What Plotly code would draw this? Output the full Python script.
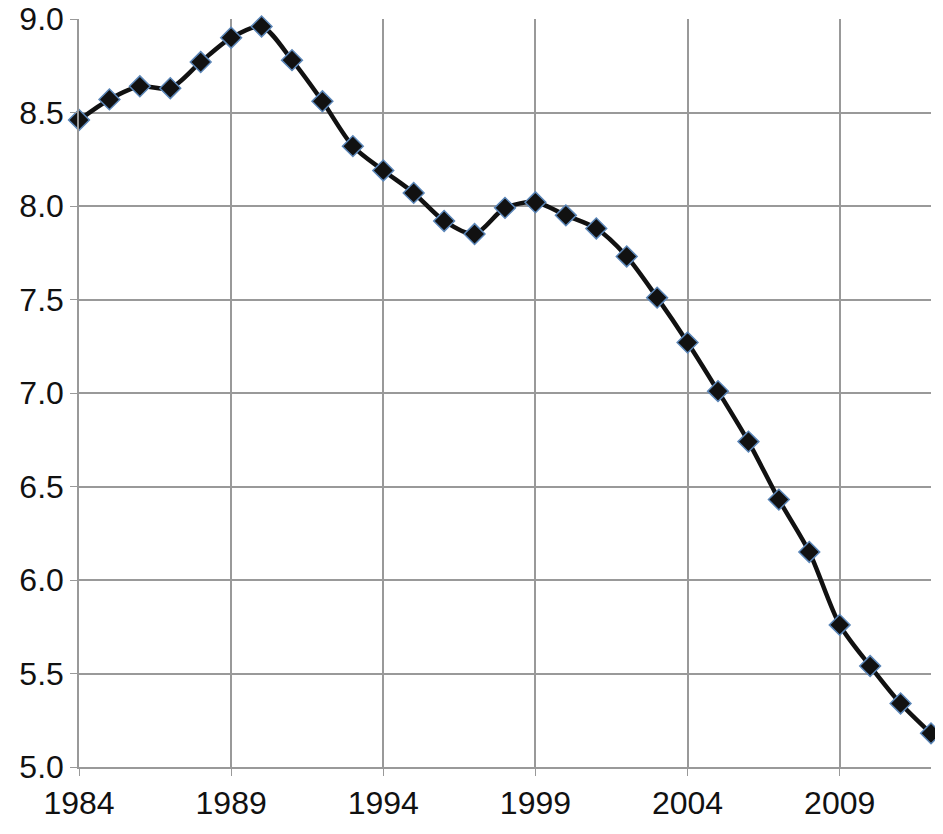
import plotly.graph_objects as go

years = list(range(1984, 2013))
values = [8.46, 8.57, 8.64, 8.63, 8.77, 8.90, 8.96, 8.78, 8.56, 8.32,
          8.19, 8.07, 7.92, 7.85, 7.99, 8.02, 7.95, 7.88, 7.73, 7.51,
          7.27, 7.01, 6.74, 6.43, 6.15, 5.76, 5.54, 5.34, 5.18]
x_ticks = [1984, 1989, 1994, 1999, 2004, 2009]
y_ticks = [5.0, 5.5, 6.0, 6.5, 7.0, 7.5, 8.0, 8.5, 9.0]

fig = go.Figure()
fig.add_trace(go.Scatter(
    x=years,
    y=values,
    mode="lines+markers",
    line=dict(color="#111111", width=4.5, shape="spline", smoothing=0.8),
    marker=dict(symbol="diamond", size=16, color="#111111",
                line=dict(color="#5b86b8", width=1.5)),
    cliponaxis=False,
    showlegend=False,
))

axis_font = dict(family="Arial, Liberation Sans, sans-serif", size=32, color="#111111")

# page body adds an 8px margin, so the figure is sized to fit the window
fig.update_layout(
    width=935,
    height=826,
    margin=dict(l=71, r=12, t=11, b=67),
    plot_bgcolor="white",
    paper_bgcolor="white",
    xaxis=dict(
        range=[1984, 2012],
        tickvals=x_ticks,
        ticktext=[str(t) for t in x_ticks],
        showgrid=True,
        gridcolor="#999999",
        gridwidth=1.5,
        ticks="outside",
        ticklen=7,
        tickcolor="#999999",
        tickfont=axis_font,
        ticklabeloverflow="allow",
        zeroline=False,
        showline=True,
        linecolor="#999999",
        linewidth=1.5,
        automargin=False,
    ),
    yaxis=dict(
        range=[5.0, 9.0],
        tickvals=y_ticks,
        ticktext=[f"{v:.1f}" for v in y_ticks],
        showgrid=True,
        gridcolor="#999999",
        gridwidth=1.5,
        ticks="outside",
        ticklen=7,
        tickcolor="#999999",
        tickfont=axis_font,
        ticklabeloverflow="allow",
        zeroline=False,
        showline=True,
        linecolor="#999999",
        linewidth=1.5,
        automargin=False,
    ),
)

fig.write_html("out.html")
